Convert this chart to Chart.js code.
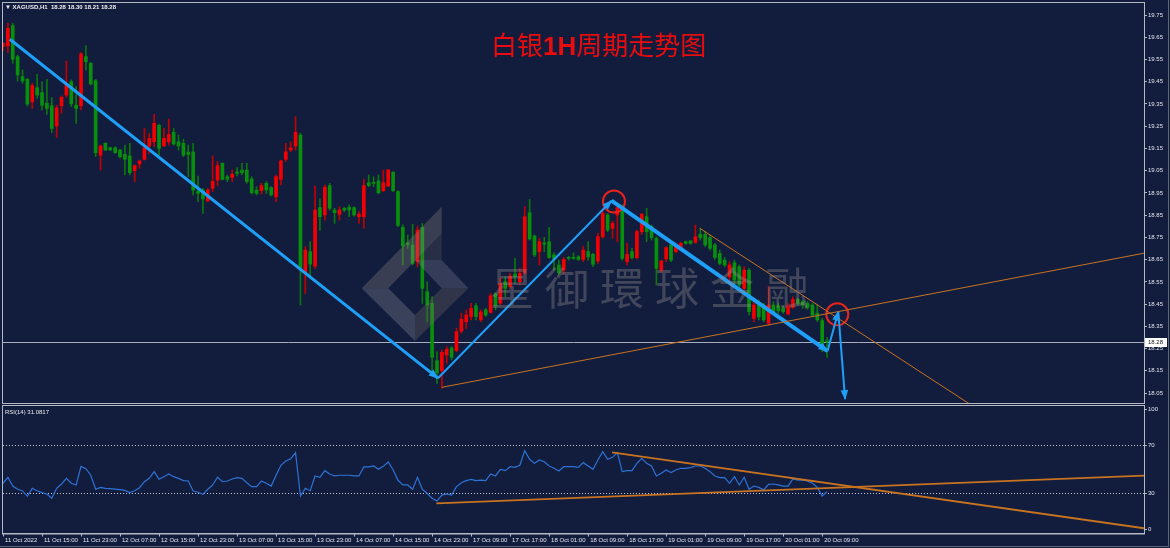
<!DOCTYPE html>
<html>
<head>
<meta charset="utf-8">
<script src="https://cdn.jsdelivr.net/npm/chart.js@4.4.0/dist/chart.umd.min.js"></script>
<style>
  html, body { margin: 0; padding: 0; background: #121d3e; }
  #wrap { position: relative; width: 1170px; height: 548px; overflow: hidden; background: #121d3e; }
  canvas { position: absolute; left: 0; }
  #main { top: 0; }
  #rsi { top: 405px; }
  .txt { position: absolute; white-space: nowrap; pointer-events: none; }
  #head { left: 5px; top: 3px; font: bold 6px 'Liberation Sans', sans-serif; color: #f0f0f0; line-height: 8px; }
  #rsiLabel { left: 5px; top: 408px; font: 6px 'Liberation Sans', sans-serif; color: #e8e8e8; line-height: 8px; }
  #title { left: 491px; top: 31px; font: 26px 'Noto Sans CJK SC', sans-serif; color: #ea0c0c; line-height: 26px; }
  #title b { font-family: 'Liberation Sans', sans-serif; font-weight: bold; }
  #wm { left: 490px; top: 264px; font: 44px 'Noto Sans CJK TC', sans-serif; letter-spacing: 11px; color: rgba(150, 145, 140, 0.36); line-height: 44px; }
  #edge { position: absolute; left: 0; top: 0; width: 1168px; height: 546px; border-right: 1px solid #5d6474; border-bottom: 1px solid #5d6474; pointer-events: none; }
</style>
</head>
<body>
<div id="wrap">
  <canvas id="main" width="1170" height="405"></canvas>
  <canvas id="rsi" width="1170" height="143"></canvas>
  <div class="txt" id="head">▼ XAGUSD,H1&nbsp; 18.28 18.30 18.21 18.28</div>
  <div class="txt" id="rsiLabel">RSI(14) 31.0817</div>
  <div class="txt" id="title">白银<b>1H</b>周期走势图</div>
  <div class="txt" id="wm">星御環球金融</div>
  <div id="edge"></div>
</div>
<script>
(() => {
  'use strict';

  // hourly bars, XAGUSD H1
  const open = [
    19.608, 19.611, 19.702, 19.563, 19.473, 19.461, 19.360, 19.423, 19.401, 19.353,
    19.342, 19.251, 19.342, 19.390, 19.450, 19.345, 19.342, 19.563, 19.533, 19.455,
    19.120, 19.173, 19.153, 19.153, 19.143, 19.123, 19.116, 19.050, 19.080, 19.101,
    19.161, 19.180, 19.254, 19.161, 19.180, 19.222, 19.180, 19.173, 19.134, 19.134,
    18.959, 18.963, 18.914, 18.971, 19.008, 19.083, 19.023, 19.020, 19.044, 19.053,
    19.053, 19.013, 18.963, 18.960, 18.993, 18.974, 18.933, 19.011, 19.101, 19.143,
    19.161, 19.210, 18.588, 18.686, 18.621, 18.884, 18.851, 18.983, 18.873, 18.854,
    18.881, 18.885, 18.884, 18.843, 18.843, 18.996, 18.996, 19.004, 18.960, 18.981,
    19.043, 18.956, 18.795, 18.726, 18.716, 18.641, 18.795, 18.506, 18.454, 18.196,
    18.151, 18.221, 18.253, 18.241, 18.329, 18.371, 18.394, 18.442, 18.379, 18.424,
    18.413, 18.496, 18.454, 18.551, 18.529, 18.585, 18.551, 18.591, 18.861, 18.756,
    18.686, 18.723, 18.731, 18.671, 18.626, 18.603, 18.660, 18.660, 18.663, 18.651,
    18.686, 18.674, 18.644, 18.753, 18.851, 18.791, 18.851, 18.888, 18.641, 18.686,
    18.659, 18.776, 18.843, 18.798, 18.746, 18.603, 18.653, 18.716, 18.686, 18.701,
    18.731, 18.734, 18.728, 18.764, 18.764, 18.749, 18.716, 18.678, 18.648, 18.573,
    18.636, 18.618, 18.521, 18.603, 18.386, 18.453, 18.446, 18.364, 18.446, 18.442,
    18.431, 18.406, 18.436, 18.471, 18.461, 18.453, 18.446, 18.409, 18.376, 18.285
  ];
  const high = [
    19.626, 19.713, 19.713, 19.570, 19.503, 19.465, 19.443, 19.483, 19.450, 19.461,
    19.378, 19.345, 19.386, 19.543, 19.458, 19.428, 19.581, 19.611, 19.537, 19.461,
    19.165, 19.176, 19.156, 19.158, 19.146, 19.165, 19.173, 19.076, 19.098, 19.240,
    19.218, 19.303, 19.260, 19.240, 19.282, 19.240, 19.210, 19.192, 19.165, 19.173,
    19.026, 18.971, 18.971, 19.116, 19.091, 19.086, 19.031, 19.053, 19.064, 19.083,
    19.083, 19.023, 18.978, 18.993, 19.001, 18.978, 19.031, 19.098, 19.173, 19.180,
    19.293, 19.218, 18.708, 18.731, 18.981, 18.923, 18.986, 18.993, 18.881, 18.888,
    18.885, 18.896, 18.888, 18.866, 19.011, 19.031, 19.023, 19.031, 19.053, 19.056,
    19.046, 18.960, 18.806, 18.761, 18.809, 18.801, 18.813, 18.551, 18.484, 18.236,
    18.244, 18.259, 18.259, 18.341, 18.409, 18.424, 18.454, 18.454, 18.424, 18.431,
    18.499, 18.502, 18.566, 18.573, 18.588, 18.656, 18.611, 18.888, 18.921, 18.761,
    18.746, 18.750, 18.795, 18.681, 18.648, 18.660, 18.665, 18.681, 18.668, 18.711,
    18.731, 18.678, 18.768, 18.873, 18.858, 18.824, 18.903, 18.896, 18.723, 18.701,
    18.783, 18.858, 18.881, 18.806, 18.753, 18.648, 18.708, 18.719, 18.716, 18.728,
    18.734, 18.737, 18.806, 18.791, 18.779, 18.761, 18.723, 18.693, 18.660, 18.641,
    18.648, 18.626, 18.618, 18.611, 18.461, 18.468, 18.453, 18.528, 18.461, 18.453,
    18.442, 18.453, 18.483, 18.476, 18.468, 18.461, 18.453, 18.446, 18.386, 18.300
  ];
  const low = [
    19.590, 19.582, 19.533, 19.453, 19.443, 19.341, 19.330, 19.375, 19.323, 19.303,
    19.221, 19.200, 19.308, 19.380, 19.338, 19.263, 19.323, 19.503, 19.435, 19.113,
    19.053, 19.140, 19.141, 19.128, 19.106, 19.031, 19.031, 19.001, 19.061, 19.098,
    19.128, 19.158, 19.120, 19.158, 19.165, 19.165, 19.143, 19.113, 19.023, 18.941,
    18.911, 18.858, 18.911, 18.956, 18.983, 19.008, 19.001, 19.001, 19.026, 19.031,
    18.993, 18.945, 18.941, 18.945, 18.948, 18.936, 18.911, 18.986, 19.091, 19.135,
    19.143, 18.446, 18.498, 18.566, 18.611, 18.783, 18.828, 18.873, 18.813, 18.828,
    18.866, 18.843, 18.846, 18.813, 18.791, 18.978, 18.978, 18.945, 18.956, 18.978,
    18.956, 18.798, 18.626, 18.701, 18.626, 18.618, 18.453, 18.371, 18.146, 18.094,
    18.071, 18.184, 18.199, 18.236, 18.319, 18.341, 18.379, 18.379, 18.371, 18.394,
    18.409, 18.424, 18.446, 18.484, 18.521, 18.543, 18.536, 18.581, 18.738, 18.663,
    18.626, 18.686, 18.656, 18.603, 18.581, 18.588, 18.648, 18.651, 18.646, 18.641,
    18.648, 18.618, 18.633, 18.746, 18.776, 18.746, 18.731, 18.648, 18.626, 18.653,
    18.653, 18.764, 18.731, 18.738, 18.536, 18.593, 18.641, 18.641, 18.680, 18.695,
    18.719, 18.719, 18.723, 18.738, 18.708, 18.693, 18.651, 18.626, 18.618, 18.543,
    18.536, 18.521, 18.513, 18.401, 18.371, 18.379, 18.371, 18.356, 18.409, 18.409,
    18.409, 18.401, 18.431, 18.446, 18.431, 18.426, 18.393, 18.371, 18.236, 18.210
  ];
  const close = [
    19.623, 19.690, 19.551, 19.480, 19.453, 19.350, 19.432, 19.390, 19.344, 19.330,
    19.240, 19.332, 19.380, 19.440, 19.350, 19.330, 19.575, 19.540, 19.440, 19.131,
    19.161, 19.143, 19.143, 19.131, 19.113, 19.101, 19.041, 19.073, 19.094, 19.153,
    19.195, 19.263, 19.150, 19.195, 19.213, 19.170, 19.161, 19.120, 19.123, 18.963,
    18.948, 18.923, 18.963, 19.002, 19.073, 19.011, 19.011, 19.034, 19.038, 19.041,
    19.001, 18.951, 18.948, 18.983, 18.963, 18.941, 19.023, 19.094, 19.135, 19.153,
    19.222, 18.611, 18.693, 18.630, 18.873, 18.843, 18.975, 18.881, 18.861, 18.873,
    18.873, 18.873, 18.851, 18.855, 18.983, 18.983, 18.993, 18.951, 18.996, 19.053,
    18.960, 18.804, 18.711, 18.719, 18.633, 18.783, 18.521, 18.446, 18.211, 18.142,
    18.233, 18.247, 18.211, 18.326, 18.382, 18.401, 18.431, 18.394, 18.415, 18.401,
    18.487, 18.442, 18.543, 18.521, 18.576, 18.573, 18.588, 18.843, 18.743, 18.671,
    18.731, 18.720, 18.660, 18.651, 18.591, 18.651, 18.656, 18.656, 18.651, 18.693,
    18.663, 18.629, 18.753, 18.858, 18.783, 18.813, 18.884, 18.656, 18.674, 18.659,
    18.776, 18.854, 18.776, 18.749, 18.611, 18.644, 18.704, 18.648, 18.708, 18.723,
    18.723, 18.723, 18.753, 18.749, 18.716, 18.701, 18.660, 18.633, 18.626, 18.626,
    18.558, 18.536, 18.603, 18.416, 18.446, 18.393, 18.379, 18.446, 18.416, 18.421,
    18.416, 18.442, 18.471, 18.453, 18.446, 18.436, 18.401, 18.379, 18.251, 18.280
  ];

  // RSI(14) per bar
  const rsi = [
    38.1, 43.1, 35.8, 33.1, 31.7, 27.2, 33.9, 31.9, 30.3, 29.2,
    25.6, 33.9, 37.5, 42.2, 38.1, 36.7, 52.2, 50.3, 44.8, 33.1,
    34.7, 33.9, 33.6, 33.3, 32.8, 32.2, 30.3, 31.9, 34.4, 39.4,
    42.2, 47.8, 41.4, 43.6, 45.8, 43.6, 42.2, 40.3, 40.0, 31.7,
    30.6, 28.9, 33.1, 36.7, 43.1, 39.4, 40.0, 41.7, 42.8, 42.2,
    38.6, 35.3, 35.3, 40.0, 38.1, 35.8, 44.8, 53.1, 56.7, 58.6,
    63.6, 27.5, 33.9, 31.9, 44.2, 43.1, 48.6, 45.8, 44.2, 44.8,
    44.8, 44.8, 44.2, 44.2, 51.7, 51.7, 52.5, 49.7, 52.2, 55.8,
    49.4, 40.6, 36.7, 36.7, 33.1, 43.1, 33.1, 29.7, 25.6, 23.3,
    28.3, 29.2, 28.3, 35.3, 38.6, 40.3, 41.4, 40.3, 40.8, 40.3,
    45.8, 44.2, 49.7, 48.6, 51.9, 51.4, 53.1, 65.3, 58.1, 54.7,
    57.5, 56.1, 52.5, 50.6, 48.3, 51.9, 51.9, 51.9, 51.4, 55.3,
    52.5, 49.7, 57.5, 64.4, 58.1, 59.7, 63.6, 47.8, 48.6, 48.6,
    54.7, 58.9, 54.7, 52.5, 44.2, 46.4, 49.2, 47.0, 49.2, 50.6,
    50.6, 51.1, 52.5, 52.5, 50.6, 47.8, 44.2, 42.8, 42.8, 38.1,
    43.6, 36.7, 43.1, 33.1, 35.8, 34.7, 32.5, 37.2, 37.5, 36.7,
    35.8, 35.8, 41.7, 40.8, 40.8, 40.0, 38.1, 34.7, 27.5, 31.08
  ];

  // one label every 8 bars
  const timeLabels = [
    '11 Oct 2022', '11 Oct 15:00', '11 Oct 23:00', '12 Oct 07:00', '12 Oct 15:00',
    '12 Oct 23:00', '13 Oct 07:00', '13 Oct 15:00', '13 Oct 23:00', '14 Oct 07:00',
    '14 Oct 15:00', '14 Oct 23:00', '17 Oct 09:00', '17 Oct 17:00', '18 Oct 01:00',
    '18 Oct 09:00', '18 Oct 17:00', '19 Oct 01:00', '19 Oct 09:00', '19 Oct 17:00',
    '20 Oct 01:00', '20 Oct 09:00'
  ];
  const priceTicks = [19.75, 19.65, 19.55, 19.45, 19.35, 19.25, 19.15, 19.05, 18.95, 18.85,
    18.75, 18.65, 18.55, 18.45, 18.35, 18.25, 18.15, 18.05];
  const rsiLevels = [100, 70, 30, 0];
  const lastPrice = 18.28;
  const slotCount = 235; // bar slots incl. empty space on the right

  // drawn objects: [bar index, value]
  const waveA = [[1.4, 19.641], [89.2, 18.117]];
  const waveB = [[89.2, 18.117], [124.8, 18.915]];
  const waveC = [[124.8, 18.915], [169.1, 18.239]];
  const waveD = [[169.1, 18.239], [171.3, 18.416]];
  const waveE = [[171.3, 18.416], [172.7, 18.023]];
  const supportLine = [[90, 18.076], [234, 18.679]];
  const resistLine = [[142.9, 18.791], [198.3, 18.0]];
  const marks = [[125.3, 18.911], [171.1, 18.404]];
  const rsiSupport = [[88.9, 21.4], [234, 44.4]];
  const rsiResist = [[124.9, 63.9], [234, 0.6]];

  const UP = '#f40000', UP_WICK = '#c30000';
  const DN = '#08900c', DN_WICK = '#0a760c';
  const BLUE = '#1e9ff8', ORANGE = '#c87320';
  const AXIS = '#b3b8c3', TXT = '#e4e6ec';

  Chart.defaults.font.family = "'Liberation Sans', sans-serif";
  Chart.defaults.font.size = 6;
  Chart.defaults.color = TXT;

  const pts = arr => arr.map(([x, y]) => ({x, y}));
  const isUp = open.map((o, i) => close[i] > o);

  const lineSet = (arr, color, width, arrow) => ({
    type: 'line', data: pts(arr), borderColor: color, borderWidth: width,
    pointRadius: 0, tension: 0, fill: false, order: 0, arrow
  });

  const frame = {
    id: 'frame',
    afterDraw(chart) {
      const {ctx, chartArea: a} = chart;
      ctx.save();
      ctx.strokeStyle = AXIS;
      ctx.lineWidth = 1;
      ctx.strokeRect(a.left - 0.5, a.top - 0.5, a.right - a.left + 1, a.bottom - a.top + 1);
      ctx.restore();
    }
  };

  const arrowHeads = {
    id: 'arrowHeads',
    afterDatasetsDraw(chart) {
      const ctx = chart.ctx;
      chart.data.datasets.forEach((ds, i) => {
        if (!ds.arrow) return;
        const el = chart.getDatasetMeta(i).data;
        const a = el[el.length - 2], b = el[el.length - 1];
        const ang = Math.atan2(b.y - a.y, b.x - a.x);
        const len = 9, half = 3.8;
        ctx.save();
        ctx.fillStyle = ds.borderColor;
        ctx.translate(b.x, b.y);
        ctx.rotate(ang);
        ctx.beginPath();
        ctx.moveTo(1, 0);
        ctx.lineTo(-len, -half);
        ctx.lineTo(-len, half);
        ctx.closePath();
        ctx.fill();
        ctx.restore();
      });
    }
  };

  const priceLine = {
    id: 'priceLine',
    beforeDatasetsDraw(chart) {
      const {ctx, chartArea: a, scales: {y}} = chart;
      const py = Math.round(y.getPixelForValue(lastPrice)) + 0.5;
      ctx.save();
      ctx.strokeStyle = '#a7adbb';
      ctx.lineWidth = 1;
      ctx.beginPath();
      ctx.moveTo(a.left, py);
      ctx.lineTo(a.right, py);
      ctx.stroke();
      ctx.restore();
    },
    afterDraw(chart) {
      const {ctx, chartArea: a, scales: {y}} = chart;
      const py = Math.round(y.getPixelForValue(lastPrice));
      ctx.save();
      ctx.fillStyle = '#ffffff';
      ctx.fillRect(a.right + 1, py - 4, 22, 9);
      ctx.fillStyle = '#101010';
      ctx.font = "6px 'Liberation Sans', sans-serif";
      ctx.textBaseline = 'middle';
      ctx.fillText(lastPrice.toFixed(2), a.right + 4, py + 0.5);
      ctx.restore();
    }
  };

  // translucent logo of the watermark
  const logo = {
    id: 'logo',
    afterDatasetsDraw(chart) {
      const ctx = chart.ctx;
      const faces = [
        [[[361.7, 288.3], [441.7, 206.7], [441.7, 233.3], [388.3, 288.3]], 'rgba(150,140,130,0.30)'],
        [[[361.7, 288.3], [388.3, 288.3], [415, 315], [415, 341]], 'rgba(150,150,160,0.30)'],
        [[[415, 341], [415, 315], [441.7, 288.3], [468.3, 288.3]], 'rgba(120,110,100,0.30)'],
        [[[415, 260], [441.7, 260], [468.3, 288.3], [441.7, 288.3]], 'rgba(150,150,165,0.26)'],
        [[[415, 260], [441.7, 233.3], [441.7, 260]], 'rgba(120,110,100,0.22)']
      ];
      ctx.save();
      faces.forEach(([poly, col]) => {
        ctx.fillStyle = col;
        ctx.beginPath();
        poly.forEach(([x, y], k) => (k ? ctx.lineTo(x, y) : ctx.moveTo(x, y)));
        ctx.closePath();
        ctx.fill();
      });
      ctx.restore();
    }
  };

  const xScale = {type: 'linear', min: 0, max: slotCount - 1, offset: false, display: false};

  new Chart(document.getElementById('main'), {
    type: 'bar',
    data: {
      datasets: [
        {
          data: low.map((l, i) => ({x: i, y: [l, high[i]]})),
          backgroundColor: isUp.map(u => (u ? UP_WICK : DN_WICK)),
          barThickness: 1, grouped: false, order: 3
        },
        {
          data: open.map((o, i) => ({x: i, y: [o, close[i]]})),
          backgroundColor: isUp.map(u => (u ? UP : DN)),
          barThickness: 3, minBarLength: 1, grouped: false, order: 2
        },
        lineSet(supportLine, ORANGE, 1, false),
        lineSet(resistLine, ORANGE, 1, false),
        lineSet(waveA, BLUE, 3, true),
        lineSet(waveB, BLUE, 2, true),
        lineSet(waveC, BLUE, 4, true),
        lineSet(waveD, BLUE, 2, true),
        lineSet(waveE, BLUE, 2, true),
        {
          type: 'line', data: pts(marks), showLine: false, pointRadius: 11,
          pointBorderColor: '#e8231c', pointBorderWidth: 2,
          pointBackgroundColor: 'rgba(0,0,0,0)', order: 0
        }
      ]
    },
    options: {
      responsive: false, animation: false,
      layout: {autoPadding: false, padding: {left: 3, top: 3, bottom: 2, right: 0}},
      plugins: {legend: {display: false}, tooltip: {enabled: false}},
      scales: {
        x: xScale,
        y: {
          position: 'right', min: 18.0054, max: 19.804,
          afterBuildTicks: s => { s.ticks = priceTicks.map(v => ({value: v})); },
          afterFit: s => { s.width = 26; s.paddingTop = 0; s.paddingBottom = 0; },
          ticks: {padding: 1, color: TXT, callback: v => Number(v).toFixed(2)},
          grid: {drawOnChartArea: false, tickLength: 3, color: AXIS},
          border: {color: AXIS}
        }
      }
    },
    plugins: [priceLine, logo, arrowHeads, frame]
  });

  new Chart(document.getElementById('rsi'), {
    type: 'line',
    data: {
      datasets: [
        {data: rsi.map((v, i) => ({x: i, y: v})), borderColor: '#2d72d4', borderWidth: 1.2, pointRadius: 0, tension: 0, order: 2},
        lineSet(rsiSupport, ORANGE, 1.8, false),
        lineSet(rsiResist, ORANGE, 1.8, false)
      ]
    },
    options: {
      responsive: false, animation: false,
      layout: {autoPadding: false, padding: {left: 3, top: 1, bottom: 0, right: 0}},
      plugins: {legend: {display: false}, tooltip: {enabled: false}},
      scales: {
        x: {
          type: 'linear', min: 0, max: slotCount - 1, offset: false,
          afterBuildTicks: s => { s.ticks = timeLabels.map((t, k) => ({value: k * 8})); },
          afterFit: s => { s.height = 14.5; s.paddingLeft = 0; s.paddingRight = 0; },
          ticks: {
            autoSkip: false, maxRotation: 0, align: 'start', labelOffset: 2, padding: 0, color: TXT,
            callback: v => timeLabels[Math.round(v / 8)]
          },
          grid: {drawOnChartArea: false, tickLength: 3, color: AXIS},
          border: {color: AXIS}
        },
        y: {
          position: 'right', min: -3.75, max: 102.5,
          afterBuildTicks: s => { s.ticks = rsiLevels.map(v => ({value: v})); },
          afterFit: s => { s.width = 26; s.paddingTop = 0; s.paddingBottom = 0; },
          ticks: {padding: 1, color: TXT},
          grid: {
            color: c => (c.tick && (c.tick.value === 30 || c.tick.value === 70) ? '#c9ccd4' : 'rgba(0,0,0,0)'),
            tickColor: AXIS, tickLength: 3
          },
          border: {color: AXIS, dash: [1, 2]}
        }
      }
    },
    plugins: [frame]
  });
})();
</script>
</body>
</html>
